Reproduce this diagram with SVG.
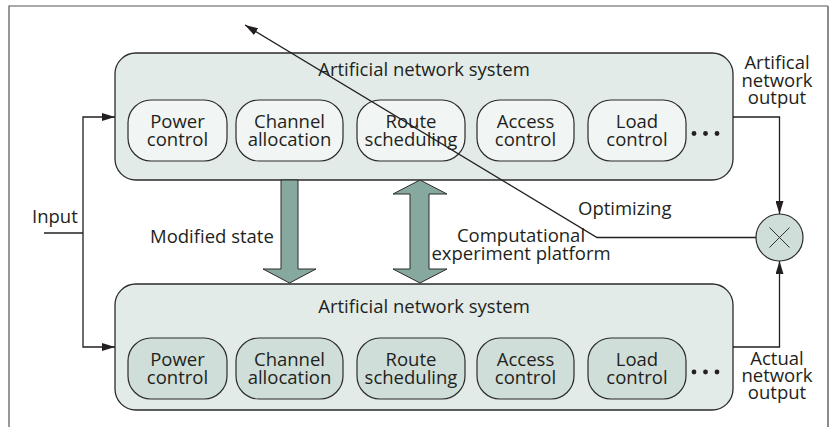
<svg xmlns="http://www.w3.org/2000/svg" width="833" height="427" viewBox="0 0 833 427">
<defs>
<style>
text{font-family:"Open Sans","Noto Sans","Liberation Sans",sans-serif;font-size:18.5px;fill:#231f20}
.c{text-anchor:middle}
.big{fill:#e2ebe7;stroke:#2b2b2b;stroke-width:1.3}
.subT{fill:#f1f6f4;stroke:#2b2b2b;stroke-width:1.2}
.subB{fill:#cfded8;stroke:#2b2b2b;stroke-width:1.2}
.ln{fill:none;stroke:#231f20;stroke-width:1.3}
.blk{fill:#86a89f;stroke:#2b2b2b;stroke-width:1}
.dot{fill:#231f20}
</style>
<marker id="ah" viewBox="0 0 13 8" refX="13" refY="4" markerWidth="13" markerHeight="8" markerUnits="userSpaceOnUse" orient="auto">
<path d="M0,0 L13,4 L0,8 z" fill="#231f20"/>
</marker>
</defs>
<rect x="0" y="0" width="833" height="427" fill="#ffffff"/>
<g id="frame">
<path d="M9,427 V6 H828" fill="none" stroke="#555" stroke-width="1.2"/>
<line x1="828" y1="6" x2="828" y2="427" stroke="#8a8a8a" stroke-width="2"/>
</g>
<g id="top-system">
<rect class="big" x="115" y="53" width="618" height="127" rx="21"/>
<text class="c" x="424" y="76">Artificial network system</text>
</g>
<g id="top-power"><rect class="subT" x="128" y="100" width="99" height="61" rx="23"/><text class="c" x="177.5" y="127.5">Power</text><text class="c" x="177.5" y="145.5">control</text></g>
<g id="top-channel"><rect class="subT" x="236" y="100" width="107" height="61" rx="23"/><text class="c" x="289.5" y="127.5">Channel</text><text class="c" x="289.5" y="145.5">allocation</text></g>
<g id="top-route"><rect class="subT" x="357" y="100" width="108" height="61" rx="23"/><text class="c" x="411" y="127.5">Route</text><text class="c" x="411" y="145.5">scheduling</text></g>
<g id="top-access"><rect class="subT" x="477" y="100" width="97" height="61" rx="23"/><text class="c" x="525.5" y="127.5">Access</text><text class="c" x="525.5" y="145.5">control</text></g>
<g id="top-load"><rect class="subT" x="588" y="100" width="98" height="61" rx="23"/><text class="c" x="637" y="127.5">Load</text><text class="c" x="637" y="145.5">control</text></g>
<g id="top-more"><circle class="dot" cx="694" cy="133.5" r="2.4"/><circle class="dot" cx="705.5" cy="133.5" r="2.4"/><circle class="dot" cx="717" cy="133.5" r="2.4"/></g>

<g id="bottom-system">
<rect class="big" x="115" y="284" width="618" height="126" rx="21"/>
<text class="c" x="424" y="313">Artificial network system</text>
</g>
<g id="bot-power"><rect class="subB" x="128" y="338" width="99" height="61" rx="23"/><text class="c" x="177.5" y="365.5">Power</text><text class="c" x="177.5" y="383.5">control</text></g>
<g id="bot-channel"><rect class="subB" x="236" y="338" width="107" height="61" rx="23"/><text class="c" x="289.5" y="365.5">Channel</text><text class="c" x="289.5" y="383.5">allocation</text></g>
<g id="bot-route"><rect class="subB" x="357" y="338" width="108" height="61" rx="23"/><text class="c" x="411" y="365.5">Route</text><text class="c" x="411" y="383.5">scheduling</text></g>
<g id="bot-access"><rect class="subB" x="477" y="338" width="97" height="61" rx="23"/><text class="c" x="525.5" y="365.5">Access</text><text class="c" x="525.5" y="383.5">control</text></g>
<g id="bot-load"><rect class="subB" x="588" y="338" width="98" height="61" rx="23"/><text class="c" x="637" y="365.5">Load</text><text class="c" x="637" y="383.5">control</text></g>
<g id="bot-more"><circle class="dot" cx="694" cy="372" r="2.4"/><circle class="dot" cx="705.5" cy="372" r="2.4"/><circle class="dot" cx="717" cy="372" r="2.4"/></g>

<g id="multiplier">
<circle cx="779.5" cy="237.5" r="23.5" fill="#cfded8" stroke="#2b2b2b" stroke-width="1.2"/>
<path d="M769.5,227.5 L789.5,247.5 M789.5,227.5 L769.5,247.5" stroke="#333" stroke-width="1"/>
</g>

<g id="labels">
<text x="32" y="223">Input</text>
<text x="150" y="243">Modified state</text>
<text class="c" x="521" y="242">Computational</text>
<text class="c" x="521" y="260">experiment platform</text>
<text x="578" y="215">Optimizing</text>
<text class="c" x="777" y="69">Artifical</text>
<text class="c" x="777" y="86.5">network</text>
<text class="c" x="777" y="103.5">output</text>
<text class="c" x="777" y="365">Actual</text>
<text class="c" x="777" y="382">network</text>
<text class="c" x="777" y="398.5">output</text>
</g>

<g id="connectors">
<polygon class="blk" points="281,180 298,180 298,269 316,269 289.5,283 263,269 281,269"/>
<polygon class="blk" points="420,180 447,194 429,194 429,269 447,269 420,283 393,269 410,269 410,194 393,194"/>
<path class="ln" d="M44,233 H83"/>
<path class="ln" d="M83,233 V117 H115" marker-end="url(#ah)"/>
<path class="ln" d="M83,233 V347 H115" marker-end="url(#ah)"/>
<path class="ln" d="M733,117 H779.5 V214" marker-end="url(#ah)"/>
<path class="ln" d="M733,347 H779.5 V261" marker-end="url(#ah)"/>
<path class="ln" d="M756,237.5 H597 L245,25" marker-end="url(#ah)"/>
</g>
</svg>
